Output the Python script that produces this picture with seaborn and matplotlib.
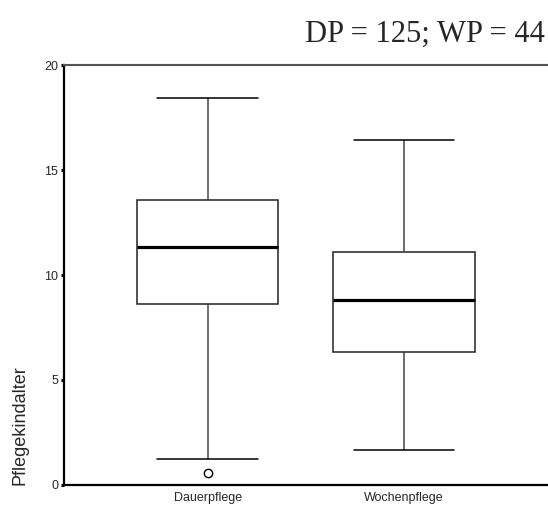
import matplotlib
matplotlib.use("Agg")
import matplotlib.pyplot as plt
import seaborn as sns
import pandas as pd

# Values (SPSS-style boxplot)
categories = ["Dauerpflege", "Wochenpflege"]
lower_whisker = [1.24, 1.67]
q1 = [8.62, 6.33]
median = [11.33, 8.81]
q3 = [13.57, 11.10]
upper_whisker = [18.43, 16.43]
outliers = [[0.57], []]
yticks = [0, 5, 10, 15, 20]
title_text = "DP = 125; WP = 44"
ylabel_text = "Pflegekindalter"


def summary_points(lw, a, m, b, uw, outs):
    # points whose linear-interpolated quartiles equal the read-off summary
    if not outs:
        return [lw, a, m, b, uw]
    return list(outs) + [lw, a, a, m, b, b, uw, uw]


rows = []
for i, cat in enumerate(categories):
    for v in summary_points(lower_whisker[i], q1[i], median[i], q3[i],
                            upper_whisker[i], outliers[i]):
        rows.append({"Gruppe": cat, "Pflegekindalter": v})
df = pd.DataFrame(rows)

sns.set_style("white")
plt.rcParams["font.family"] = ["Liberation Sans", "DejaVu Sans"]

fig = plt.figure(figsize=(5.48, 5.09), dpi=100)
ax = fig.add_axes([0.1168, 0.0472, 0.881, 0.825])

sns.boxplot(
    data=df, x="Gruppe", y="Pflegekindalter", order=categories,
    color="white", linecolor="#222222", linewidth=1.1, width=0.72,
    whis=1.5, capwidths=0.51, ax=ax,
    medianprops={"color": "black", "linewidth": 2.3},
    whiskerprops={"color": "#444444", "linewidth": 1.1},
    capprops={"color": "black", "linewidth": 1.1},
    flierprops={"marker": "o", "markerfacecolor": "none",
                "markeredgecolor": "black", "markersize": 6,
                "markeredgewidth": 1},
)

ax.set_xlim(-0.73, 1.725)
ax.set_ylim(0, 20)
ax.set_yticks(yticks)
ax.set_yticklabels([str(t) for t in yticks], fontsize=9)
ax.set_xticks(range(len(categories)))
ax.set_xticklabels(categories, fontsize=9)
ax.tick_params(axis="y", length=2.2, width=2.2, color="black", pad=2,
               left=True, direction="out")
ax.tick_params(axis="x", length=0, pad=5)
ax.set_xlabel("")
ax.set_ylabel(ylabel_text, fontsize=13, loc="bottom", labelpad=11)

for side in ["left", "bottom"]:
    ax.spines[side].set_color("black")
    ax.spines[side].set_linewidth(1.6)
ax.spines["top"].set_color("#555555")
ax.spines["top"].set_linewidth(1.5)
ax.spines["right"].set_visible(False)

fig.text(0.995, 0.962, title_text, ha="right", va="top",
         fontsize=22, family=["Liberation Serif", "DejaVu Serif"])

fig.savefig("out.png", dpi=100)
